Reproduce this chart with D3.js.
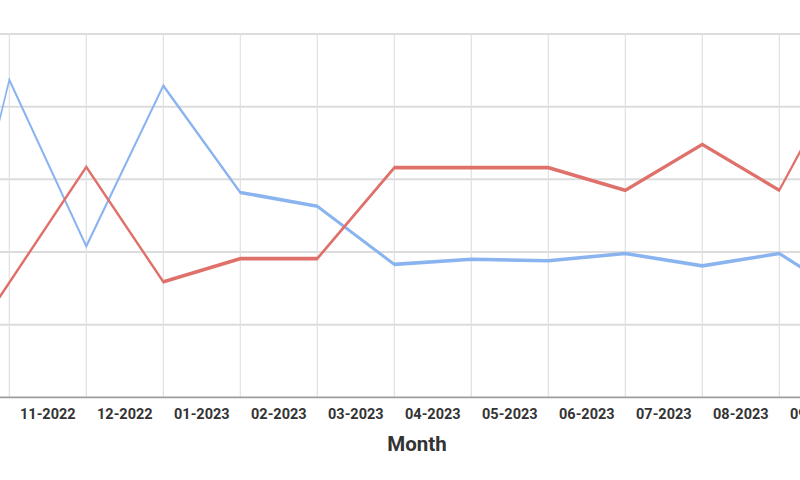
<!DOCTYPE html>
<html>
<head>
<meta charset="utf-8">
<script src="https://cdn.jsdelivr.net/npm/d3@7"></script>
<style>
  html, body { margin: 0; padding: 0; background: #fff; }
  svg { display: block; }
</style>
</head>
<body>
<svg id="chart" width="800" height="480"></svg>
<script>
// ---- data ----
const months = ["10-2022","11-2022","12-2022","01-2023","02-2023","03-2023","04-2023",
                "05-2023","06-2023","07-2023","08-2023","09-2023","10-2023"];
const blueValues = [0, 4.37, 2.08, 4.29, 2.82, 2.63, 1.83, 1.90, 1.88, 1.98, 1.81, 1.98, 1.31];
const redValues  = [0, 1.58, 3.17, 1.59, 1.91, 1.91, 3.16, 3.16, 3.16, 2.85, 3.48, 2.85, 4.81];
const yTicks = [0, 1, 2, 3, 4, 5];
const xTitle = "Month";

// ---- layout ----
const W = 800, H = 480;
const step = 77.0;
const x0 = 9.3 - step;              // band start of first month
const yBottom = 397.4, yTop = 34;
const stretch = 2.4;                // vertical stretch of the plotted lines

const svg = d3.select("#chart");

const x = d3.scaleBand().domain(months)
  .range([x0, x0 + step * months.length]).padding(0);
const y = d3.scaleLinear().domain([0, 5]).range([yBottom, yTop]);
const yS = d3.scaleLinear().domain([0, 5]).range([yBottom / stretch, yTop / stretch]);

// horizontal gridlines
svg.append("g").selectAll("line").data(yTicks.filter(d => d > 0)).join("line")
  .attr("x1", 0).attr("x2", W)
  .attr("y1", d => y(d)).attr("y2", d => y(d))
  .attr("stroke", "#dcdcdc").attr("stroke-width", 2);

// vertical gridlines
svg.append("g").selectAll("line").data(months).join("line")
  .attr("x1", d => x(d)).attr("x2", d => x(d))
  .attr("y1", yTop - 1).attr("y2", yBottom)
  .attr("stroke", "#e0e0e0").attr("stroke-width", 1.2);

// axis line
svg.append("line")
  .attr("x1", 0).attr("x2", W).attr("y1", y(0)).attr("y2", y(0))
  .attr("stroke", "#9e9e9e").attr("stroke-width", 1.6);

// lines (drawn in a vertically stretched group)
const lineGen = vals => d3.line()
  .x((d, i) => x(months[i]))
  .y(d => yS(d))(vals);

const lg = svg.append("g").attr("transform", `scale(1,${stretch})`);
lg.append("path").attr("d", lineGen(blueValues))
  .attr("fill", "none").attr("stroke", "#8ab4f0").attr("stroke-width", 1.5)
  .attr("stroke-linejoin", "miter");
lg.append("path").attr("d", lineGen(redValues))
  .attr("fill", "none").attr("stroke", "#df706a").attr("stroke-width", 1.55)
  .attr("stroke-linejoin", "miter");

// x tick labels (centered between gridlines); only those inside the view
const visibleMonths = months.filter(d => x(d) + x.bandwidth() / 2 > 0 && x(d) + x.bandwidth() / 2 < W + 28);
svg.append("g").selectAll("text").data(visibleMonths).join("text")
  .attr("x", d => x(d) + x.bandwidth() / 2)
  .attr("y", 418.8)
  .attr("text-anchor", "middle")
  .attr("font-family", "Roboto, 'Noto Sans', sans-serif")
  .attr("font-weight", "bold")
  .attr("font-size", 14)
  .attr("fill", "#333")
  .attr("textLength", 55.5)
  .attr("lengthAdjust", "spacingAndGlyphs")
  .text(d => d);

// x axis title
svg.append("text")
  .attr("x", 417).attr("y", 451)
  .attr("text-anchor", "middle")
  .attr("font-family", "Roboto, 'Noto Sans', sans-serif")
  .attr("font-weight", "bold")
  .attr("font-size", 20.5)
  .attr("fill", "#333")
  .text(xTitle);
</script>
</body>
</html>
